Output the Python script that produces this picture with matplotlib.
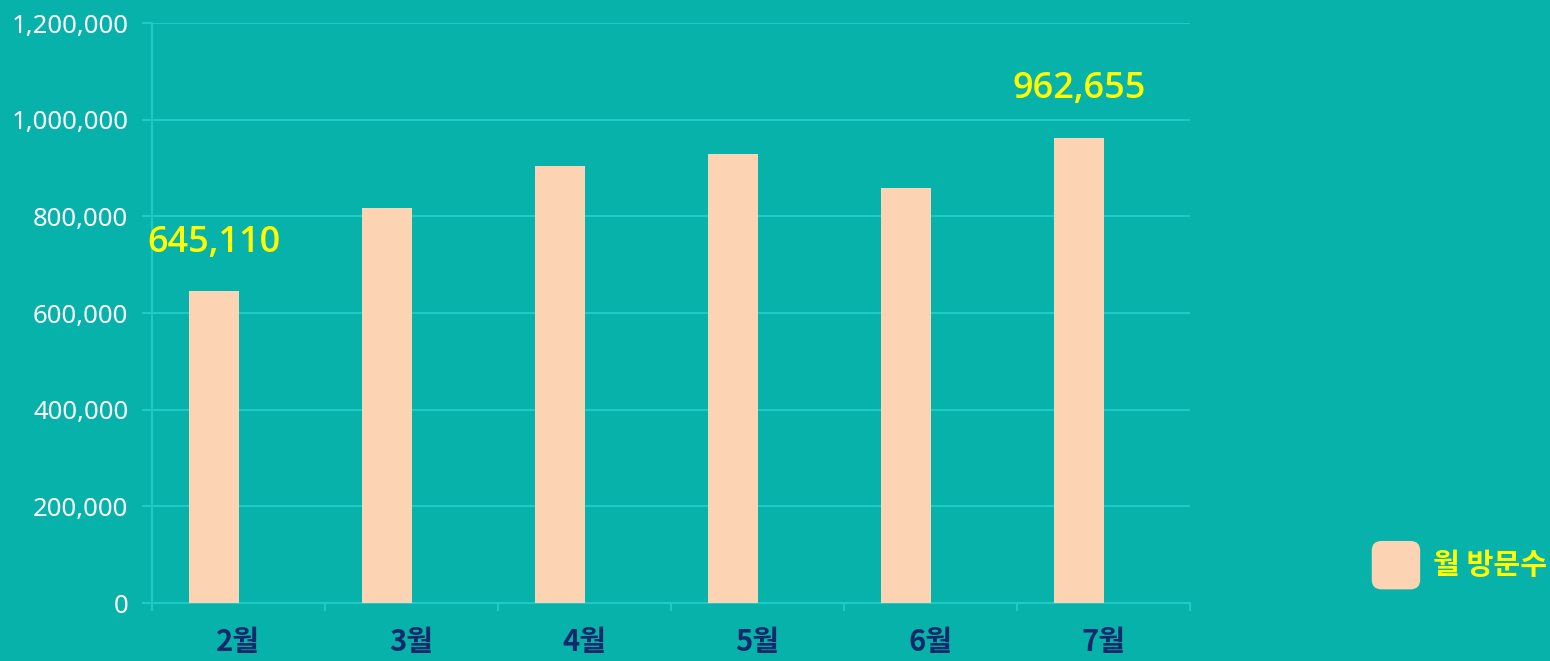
import matplotlib
matplotlib.use("Agg")
import matplotlib.pyplot as plt
from matplotlib.patches import FancyBboxPatch, Patch
from matplotlib.legend_handler import HandlerPatch
from matplotlib.ticker import FuncFormatter, MultipleLocator, FixedLocator
import numpy as np

months = ["2월", "3월", "4월", "5월", "6월", "7월"]
visits = [645110, 817000, 904000, 929000, 859000, 962655]
labeled = {0: "645,110", 5: "962,655"}
series_name = "월 방문수"

BG = "#07b2ab"
GRID = "#1ccbc3"
BAR = "#fcd4b4"
YELLOW = "#ffff00"
NAVY = "#13296a"

plt.rcParams['font.family'] = ['Noto Sans CJK KR', 'DejaVu Sans']

fig = plt.figure(figsize=(15.5, 6.61), dpi=100, facecolor=BG)
ax = fig.add_axes([0.0981, 0.0877, 0.6696, 0.8775], facecolor=BG)

x = np.arange(len(months))
offset = -0.14
width = 0.29
ax.bar(x + offset, visits, width=width, color=BAR, zorder=3, label=series_name)

for i, txt in labeled.items():
    ax.annotate(txt, (x[i] + offset, visits[i]), xytext=(0, 22), textcoords="offset points",
                ha="center", va="bottom", color=YELLOW, fontsize=26, fontweight="semibold",
                family=["Open Sans", "DejaVu Sans"])

ax.set_xlim(-0.5, len(months) - 0.5)
ax.set_ylim(0, 1200000)
ax.yaxis.set_major_locator(MultipleLocator(200000))
ax.yaxis.set_major_formatter(FuncFormatter(lambda v, p: f"{int(v):,}"))
ax.grid(axis="y", color=GRID, linewidth=1.5, zorder=0)
ax.tick_params(axis="y", colors=GRID, length=7, width=1.5, labelcolor="white", labelsize=18.5, pad=10)
for lab in ax.get_yticklabels():
    lab.set_family(["Noto Sans", "DejaVu Sans"])

ax.set_xticks(x)
ax.set_xticklabels(months)
ax.tick_params(axis="x", which="major", length=0, labelcolor=NAVY, labelsize=21, pad=17)
for lab in ax.get_xticklabels():
    lab.set_fontweight("bold")
ax.xaxis.set_minor_locator(FixedLocator(np.arange(-0.5, len(months), 1.0)))
ax.tick_params(axis="x", which="minor", length=6, width=1.5, color=GRID)

for s in ["top", "right"]:
    ax.spines[s].set_visible(False)
for s in ["left", "bottom"]:
    ax.spines[s].set_color(GRID)
    ax.spines[s].set_linewidth(1.5)


class RoundHandler(HandlerPatch):
    def create_artists(self, legend, orig_handle, xdescent, ydescent, width, height, fontsize, trans):
        s = min(width, height)
        p = FancyBboxPatch((-xdescent + (width - s) / 2, -ydescent + (height - s) / 2), s, s,
                           boxstyle="round,pad=0,rounding_size=7",
                           facecolor=BAR, edgecolor="none", transform=trans)
        return [p]


handle = Patch(facecolor=BAR)
leg = fig.legend([handle], [series_name], loc="center left", bbox_to_anchor=(0.885, 0.145),
                 frameon=False, handler_map={Patch: RoundHandler()}, borderpad=0, borderaxespad=0,
                 handlelength=1.66, handleheight=2.25, handletextpad=0.45, prop={"size": 21, "weight": "bold"})
for t in leg.get_texts():
    t.set_color(YELLOW)

fig.savefig("out.png", dpi=100, facecolor=BG)
